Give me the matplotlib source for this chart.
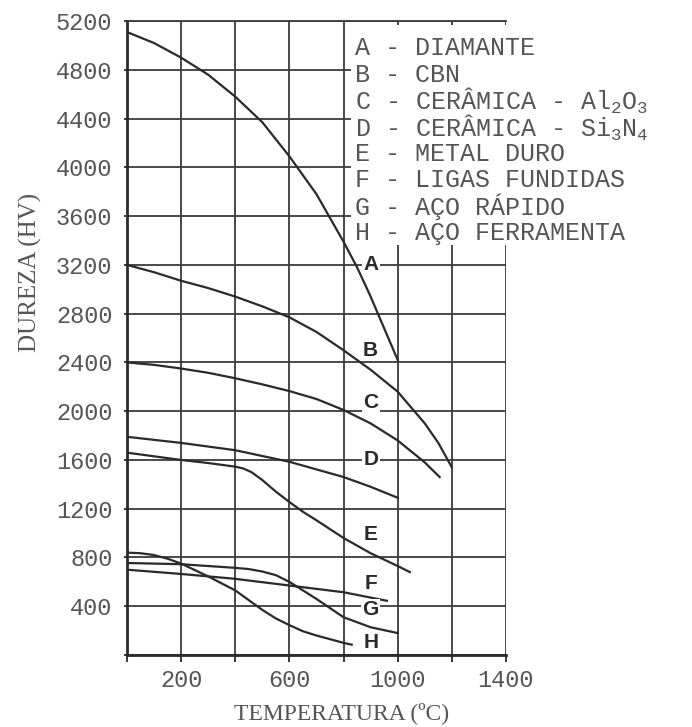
import matplotlib.pyplot as plt

# Dureza dos materiais de ferramenta em funcao da temperatura

# Curvas (temperatura em ºC, dureza em HV)
tA = [0, 100, 200, 300, 400, 500, 600, 700, 800, 850, 900, 950, 1000]
hA = [5110, 5020, 4900, 4760, 4580, 4370, 4090, 3780, 3390, 3180, 2940, 2680, 2420]
tB = [0, 100, 200, 300, 400, 500, 600, 700, 800, 900, 1000, 1100, 1150, 1200]
hB = [3200, 3140, 3070, 3010, 2940, 2860, 2770, 2650, 2500, 2340, 2160, 1900, 1740, 1540]
tC = [0, 100, 200, 300, 400, 500, 600, 700, 800, 900, 1000, 1100, 1155]
hC = [2400, 2380, 2350, 2315, 2270, 2220, 2165, 2100, 2010, 1900, 1760, 1580, 1460]
tD = [0, 200, 400, 600, 800, 900, 1000]
hD = [1790, 1740, 1680, 1585, 1460, 1380, 1290]
tE = [0, 100, 200, 300, 400, 430, 460, 500, 550, 600, 650, 700, 800, 900, 1000, 1045]
hE = [1660, 1630, 1600, 1575, 1545, 1530, 1500, 1435, 1340, 1255, 1175, 1105, 960, 835, 730, 680]
tF = [0, 200, 400, 600, 800, 960]
hF = [700, 665, 625, 570, 515, 445]
tG = [0, 200, 400, 450, 500, 550, 600, 650, 700, 800, 900, 1000]
hG = [755, 745, 715, 705, 685, 655, 600, 530, 460, 310, 228, 180]
tH = [0, 50, 100, 150, 200, 300, 400, 450, 500, 550, 600, 650, 700, 800, 830]
hH = [840, 835, 820, 790, 750, 645, 530, 450, 370, 300, 245, 195, 160, 100, 85]

curvas = [(tA, hA), (tB, hB), (tC, hC), (tD, hD), (tE, hE), (tF, hF), (tG, hG), (tH, hH)]

# Letras das curvas e onde ficam
letras = ['A', 'B', 'C', 'D', 'E', 'F', 'G', 'H']
letra_x = 900
letra_y = [3200, 2500, 2075, 1600, 985, 590, 370, 100]

# Texto da legenda
nomes = ['DIAMANTE', 'CBN', r'CERÂMICA - $\mathrm{Al_2O_3}$', r'CERÂMICA - $\mathrm{Si_3N_4}$',
         'METAL DURO', 'LIGAS FUNDIDAS', 'AÇO RÁPIDO', 'AÇO FERRAMENTA']

# Eixos
xticks = list(range(0, 1401, 200))
xlabels = ['', '200', '', '600', '', '1000', '', '1400']
yticks = list(range(0, 5201, 400))
ylabels = [''] + [str(v) for v in yticks[1:]]

plt.rcParams['mathtext.fontset'] = 'custom'
plt.rcParams['mathtext.rm'] = 'Liberation Mono'
plt.rcParams['mathtext.it'] = 'Liberation Mono'

tinta = '#2a2a2a'
cinza = '#555555'

fig = plt.figure(figsize=(6.92, 7.27), dpi=100)
ax = fig.add_axes([0.1835, 0.099, 0.5477, 0.872])
ax.set_axisbelow(True)
ax.set_xlim(0, 1400)
ax.set_ylim(0, 5200)
ax.set_xticks(xticks)
ax.set_xticklabels(xlabels, fontfamily='Liberation Mono', fontsize=17, color=cinza)
ax.set_yticks(yticks)
ax.set_yticklabels(ylabels, fontfamily='Liberation Mono', fontsize=17, color=cinza)
ax.tick_params(axis='x', length=5, width=1.3, color=tinta, pad=5)
ax.tick_params(axis='y', length=2.5, width=1.3, color=tinta, pad=8)
ax.grid(True, color='#3a3a3a', linewidth=1.3)
for lado in ['left', 'bottom']:
    ax.spines[lado].set_linewidth(2.0)
    ax.spines[lado].set_color(tinta)
ax.spines['top'].set_linewidth(1.3)
ax.spines['top'].set_color('#3a3a3a')
# a borda direita fica por conta da grade (some atras da legenda)
ax.spines['right'].set_visible(False)

# Curvas
for t, h in curvas:
    ax.plot(t, h, color=tinta, linewidth=1.6, zorder=2)

# Caixa branca da legenda (tapa a grade no canto superior direito)
ax.add_patch(plt.Rectangle((826, 3360), 1000, 1810, facecolor='white', edgecolor='none',
                           zorder=2.2, clip_on=False))

for i in range(len(letras)):
    ax.text(letra_x, letra_y[i], letras[i], fontfamily='Liberation Sans', fontweight='bold',
            fontsize=15, color=tinta, ha='center', va='center', zorder=3,
            bbox=dict(facecolor='white', edgecolor='none', pad=1.0))

# Legenda em texto
for i in range(len(letras)):
    ax.text(0.6016, 0.957 - i * 0.0416, letras[i] + ' - ' + nomes[i], transform=ax.transAxes,
            fontfamily='Liberation Mono', fontsize=18, color=cinza, ha='left', va='center',
            zorder=4, clip_on=False)

ax.set_xlabel('TEMPERATURA (ºC)', fontfamily='Liberation Serif', fontsize=17, color=cinza)
ax.set_ylabel('DUREZA (HV)', fontfamily='Liberation Serif', fontsize=18, color=cinza)
ax.xaxis.set_label_coords(0.567, -0.074)
ax.yaxis.set_label_coords(-0.225, 0.604)

fig.savefig('out.png', dpi=100)
